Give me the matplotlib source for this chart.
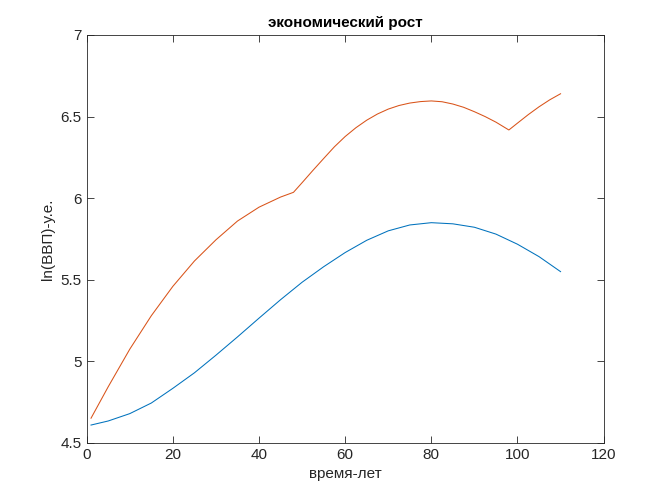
import matplotlib

matplotlib.use("Agg")

import matplotlib.pyplot as plt

plt.rcParams["font.family"] = ["Liberation Sans", "DejaVu Sans"]

# годы и значения ln(ВВП)
years_blue = [1, 5, 10, 15, 20, 25, 30, 35, 40, 45, 50, 55, 60, 65, 70, 75, 80, 85, 90, 95, 100, 105, 110]
gdp_blue = [4.610, 4.635, 4.680, 4.745, 4.835, 4.930, 5.038, 5.150, 5.265, 5.378, 5.485, 5.580, 5.667,
            5.742, 5.800, 5.836, 5.850, 5.843, 5.822, 5.780, 5.718, 5.642, 5.550]

years_orange = [1, 5, 10, 15, 20, 25, 30, 35, 40, 45, 48, 50, 52.5, 55, 57.5, 60, 62.5, 65, 67.5,
                70, 72.5, 75, 77.5, 80, 82.5, 85, 87.5, 90, 92.5, 95, 98, 100, 102.5, 105, 107.5, 110]
gdp_orange = [4.652, 4.845, 5.075, 5.280, 5.460, 5.615, 5.745, 5.860, 5.945, 6.007, 6.036, 6.095, 6.170,
              6.243, 6.315, 6.378, 6.432, 6.478, 6.516, 6.546, 6.568, 6.583, 6.592, 6.596, 6.591,
              6.577, 6.557, 6.530, 6.500, 6.466, 6.418, 6.460, 6.512, 6.560, 6.603, 6.640]

axis_color = "#262626"

fig = plt.figure(figsize=(6.67, 5), dpi=100)
ax = fig.add_axes([0.13, 0.114, 0.775, 0.816])

ax.plot(years_blue, gdp_blue, color="#0072BD", lw=0.75)
ax.plot(years_orange, gdp_orange, color="#D95319", lw=0.75)

ax.set_xlim(0, 120)
ax.set_ylim(4.5, 7)
ax.set_xticks(range(0, 121, 20))
ax.set_yticks([4.5, 5, 5.5, 6, 6.5, 7])
ax.set_yticklabels(["4.5", "5", "5.5", "6", "6.5", "7"])

ax.tick_params(direction="in", top=True, right=True, length=5, width=0.6,
               colors=axis_color, labelsize=11)
for s in ax.spines.values():
    s.set_color(axis_color)
    s.set_linewidth(0.6)

ax.set_title("экономический рост", fontsize=11, fontweight="bold", color="black", pad=6)
ax.set_xlabel("время-лет", fontsize=11, color=axis_color)
ax.set_ylabel("ln(ВВП)-у.е.", fontsize=11, color=axis_color)

fig.savefig("out.png", dpi=100)
